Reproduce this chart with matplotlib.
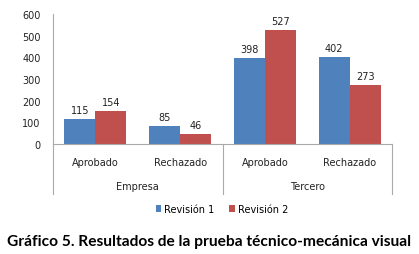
import numpy as np
import matplotlib.pyplot as plt
from matplotlib.lines import Line2D

groups = ["Empresa", "Tercero"]
categories = ["Aprobado", "Rechazado", "Aprobado", "Rechazado"]
rev1 = [115, 85, 398, 402]
rev2 = [154, 46, 527, 273]
series_names = ["Revisión 1", "Revisión 2"]
colors = ["#4F81BD", "#C0504D"]
yticks = [0, 100, 200, 300, 400, 500, 600]

W, H = 419, 255
fig = plt.figure(figsize=(W / 100, H / 100), dpi=100)
plt.rcParams['font.family'] = ['DejaVu Sans']

# axes in pixel coords
left, right, top, bottom = 53, 392, 15, 145
ax = fig.add_axes([left / W, 1 - bottom / H, (right - left) / W, (bottom - top) / H])

x = np.arange(len(categories))
bw = 0.365
b1 = ax.bar(x - bw / 2, rev1, bw, color=colors[0], label=series_names[0])
b2 = ax.bar(x + bw / 2, rev2, bw, color=colors[1], label=series_names[1])
for bars, vals in ((b1, rev1), (b2, rev2)):
    for b, v in zip(bars, vals):
        ax.text(b.get_x() + b.get_width() / 2, v + 18, str(v), ha='center', va='bottom',
                fontsize=7, color='#222222')

ax.set_xlim(-0.5, len(categories) - 0.5)
ax.set_ylim(0, 600)
ax.set_yticks(yticks)
ax.tick_params(axis='y', labelsize=7, length=0, pad=9, labelcolor='#222222')
ax.set_xticks([])
for s in ['top', 'right']:
    ax.spines[s].set_visible(False)
ax.spines['left'].set_color('#aaaaaa')
ax.spines['bottom'].set_color('#aaaaaa')
ax.patch.set_alpha(0)

# category and group labels
def fx(px):
    return px / W

def fy(py):
    return 1 - py / H

cw = (right - left) / len(categories)
for i, c in enumerate(categories):
    fig.text(fx(left + cw * (i + 0.5)), fy(163), c, ha='center', va='center', fontsize=7, color='#222222')
for g, gname in enumerate(groups):
    fig.text(fx(left + cw * (2 * g + 1)), fy(187), gname, ha='center', va='center', fontsize=7, color='#222222')

for px in (left, left + 2 * cw, right):
    fig.add_artist(Line2D([fx(px), fx(px)], [fy(145), fy(195)], color='#aaaaaa', lw=0.8))

leg = fig.legend(handles=[b1, b2], labels=series_names, loc='center', bbox_to_anchor=(fx(222), fy(210)),
                 ncol=2, frameon=False, fontsize=7, handlelength=0.6, handleheight=0.6,
                 handletextpad=0.3, columnspacing=1.5)

fig.text(fx(209), fy(242), "Gráfico 5. Resultados de la prueba técnico-mecánica visual",
         ha='center', va='center', fontsize=11.2, fontweight='bold', family=['Lato', 'DejaVu Sans'])

fig.savefig('out.png', dpi=100)
